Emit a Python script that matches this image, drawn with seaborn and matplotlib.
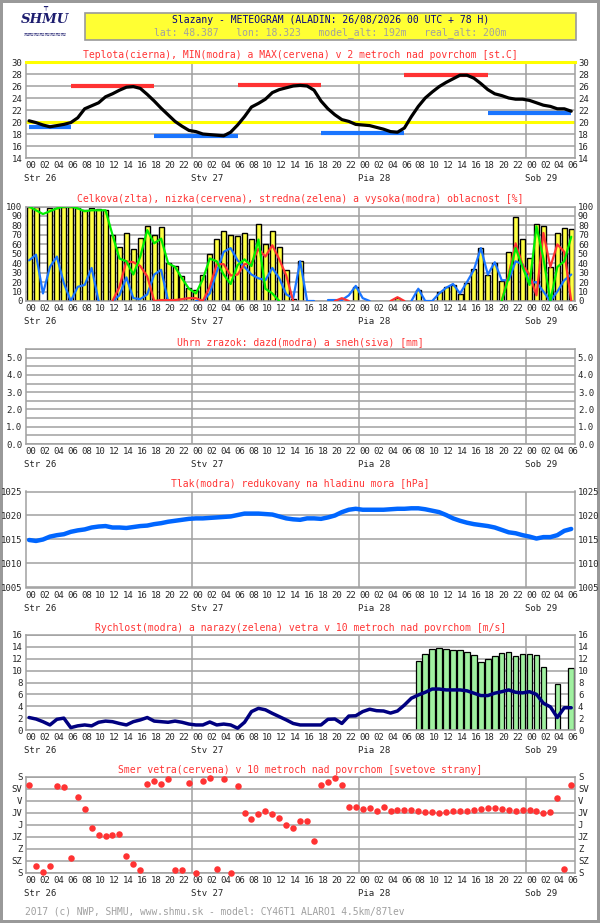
import pandas as pd
import matplotlib
matplotlib.use('Agg')
import matplotlib.pyplot as plt
import matplotlib.transforms as mtransforms
import seaborn as sns
from matplotlib.patches import Rectangle
from matplotlib.ticker import MultipleLocator

# Hodiny predpovede 0..78 (Str 26 00 UTC .. Sob 29 06 UTC)
hours = list(range(79))
hour_labels = ['%02d' % (h % 24) for h in hours[::2]]
day_starts = [0, 24, 48, 72]
day_labels = ['Str 26', 'Stv 27', 'Pia 28', 'Sob 29']

# Teplota [st.C]
temp = [20.2, 19.9, 19.5, 19.2, 19.4, 19.6, 19.9, 20.7, 22.2, 22.7, 23.2, 24.2, 24.7, 25.3, 25.8,
        25.9, 25.6, 24.6, 23.5, 22.3, 21.2, 20.1, 19.3, 18.6, 18.4, 18.0, 17.9, 17.8, 17.7, 18.3,
        19.5, 20.9, 22.5, 23.1, 23.8, 24.9, 25.4, 25.7, 26.0, 26.1, 26.0, 25.3, 23.5, 22.2, 21.2,
        20.4, 20.1, 19.6, 19.5, 19.4, 19.1, 18.8, 18.4, 18.3, 19.0, 20.9, 22.6, 24.0, 25.0, 25.9,
        26.6, 27.2, 27.8, 27.8, 27.3, 26.4, 25.4, 24.7, 24.4, 24.0, 23.8, 23.8, 23.6, 23.2, 22.8,
        22.6, 22.2, 22.2, 21.8]
tmin_val = [19.2, 17.7, 18.15, 21.5]
tmin_from = [0, 18, 42, 66]
tmin_to = [6, 30, 54, 78]
tmax_val = [26.0, 26.25, 27.9]
tmax_from = [6, 30, 54]
tmax_to = [18, 42, 66]

# Oblacnost [%]
N = None
cloud_total = [100, 99, N, 98, 98, 100, 100, 98, 96, 98, 97, 96, 70, 57, 72, 55, 67, 79, 70, 78,
               40, 37, 26, 14, 12, 28, 50, 66, 74, 70, 69, 72, 66, 81, 60, 74, 57, 33, 2, 42,
               N, N, N, N, N, N, N, 15, N, N, N, N, N, 3, N, N, 12, N, N, 10,
               15, 17, 7, 19, 34, 56, 27, 40, 21, 52, 89, 66, 45, 82, 79, 36, 72, 77, 76]
cloud_mid = [100, 96, 92, 95, 98, 100, 100, 98, 95, 96, 96, 96, 70, 45, 42, 28, 47, 75, 61, 66,
             40, 36, 24, 13, 8, 23, 45, 42, 28, 18, 38, 44, 37, 65, 13, 8, 0, N, N, N,
             N, N, N, N, N, N, N, N, N, N, N, N, N, N, N, N, N, N, N, N,
             N, N, N, N, N, N, N, N, 0, 25, 56, 36, 17, 79, 45, 0, 36, 42, 68]
cloud_low = [N, N, N, N, N, N, N, N, N, N, N, N, 0, 15, 42, 41, 37, 26, 0, 1,
             1, 1, 2, 3, 3, 0, 15, 39, 39, 27, 28, 39, 40, 55, 47, 59, 44, 27, 0, N,
             N, N, N, N, 0, 3, 0, N, N, N, N, N, 0, 4, 0, N, N, N, N, N,
             N, N, N, N, N, N, N, N, 0, 28, 61, 38, 28, 6, 72, 36, 60, 52, 0]
cloud_high = [43, 49, 8, 36, 47, 19, 0, 15, 17, 35, 0, N, 0, 6, 25, 3, 2, 7, 28, 33,
              0, N, N, N, 0, 0, 8, 31, 52, 56, 43, 36, 28, 24, 22, 35, 24, 7, 3, 42,
              0, 0, N, 1, 1, 1, 6, 16, 3, 0, N, N, N, N, N, 0, 13, 0, 0, 8,
              14, 18, 8, 20, 33, 56, 28, 41, 22, 22, 42, 39, 19, 20, 10, 0, 10, 22, 28]

# Tlak [hPa]
pressure = [1014.9, 1014.7, 1015.0, 1015.6, 1015.9, 1016.1, 1016.6, 1016.9, 1017.1, 1017.5,
            1017.7, 1017.8, 1017.5, 1017.5, 1017.4, 1017.6, 1017.8, 1017.9, 1018.2, 1018.4,
            1018.7, 1018.9, 1019.1, 1019.3, 1019.4, 1019.4, 1019.5, 1019.6, 1019.7, 1019.8,
            1020.1, 1020.4, 1020.4, 1020.4, 1020.3, 1020.2, 1019.8, 1019.4, 1019.2, 1019.1,
            1019.4, 1019.4, 1019.3, 1019.6, 1020.0, 1020.7, 1021.2, 1021.4, 1021.2, 1021.2,
            1021.2, 1021.2, 1021.3, 1021.4, 1021.4, 1021.5, 1021.5, 1021.3, 1021.0, 1020.7,
            1020.1, 1019.4, 1018.9, 1018.5, 1018.2, 1018.0, 1017.8, 1017.5, 1017.0, 1016.5,
            1016.3, 1015.9, 1015.6, 1015.2, 1015.5, 1015.5, 1015.9, 1016.8, 1017.2]

# Vietor [m/s]
wind_speed = [2.1, 1.85, 1.4, 0.85, 1.8, 2.0, 0.4, 0.7, 0.85, 0.7, 1.3, 1.5, 1.4, 1.1, 0.85,
              1.4, 1.7, 2.1, 1.5, 1.4, 1.3, 1.5, 1.3, 1.0, 0.85, 0.85, 1.35, 0.85, 1.0, 0.85,
              0.3, 1.3, 3.1, 3.65, 3.4, 2.8, 2.25, 1.7, 1.1, 0.85, 0.85, 0.85, 0.85, 1.8, 1.85,
              1.1, 2.35, 2.4, 3.1, 3.5, 3.25, 3.2, 2.85, 3.2, 4.2, 5.35, 5.9, 6.35, 6.9, 6.9,
              6.75, 6.75, 6.75, 6.6, 6.2, 5.8, 5.8, 6.2, 6.45, 6.75, 6.35, 6.25, 6.45, 6.0, 4.5,
              3.9, 2.1, 3.75, 3.75]
wind_gust = [N] * 56 + [11.6, 12.8, 13.65, 13.8, 13.65, 13.5, 13.5, 13.1, 12.6, 11.4, 12.0,
                        12.4, 13.0, 13.1, 12.4, 12.75, 12.75, 12.6, 10.6, N, 7.7, N, 10.4]

# Smer vetra [stupne]
wind_dir = [30, 332, 355, 332, 35, 38, 302, 76, 121, 193, 219, 223, 219, 215, 295, 325, 350,
            27, 15, 27, 8, 350, 350, 22, 359, 15, 4, 346, 8, 359, 34, 136, 158, 140, 128, 139,
            155, 181, 193, 166, 166, 240, 29, 19, 4, 30, 113, 113, 120, 117, 128, 113, 128, 125,
            125, 125, 128, 132, 132, 136, 132, 128, 128, 128, 125, 121, 117, 117, 121, 125, 128,
            125, 125, 128, 136, 132, 79, 346, 30]
dir_labels = ['S', 'SZ', 'Z', 'JZ', 'J', 'JV', 'V', 'SV', 'S']

RED = '#ff3333'
GRID = '#a0a0a0'
BLUE = '#1a75ff'
NAVY = '#1c1c6e'
TICK_FS = 6.5


def segments(values):
    rows, seg, prev = [], 0, False
    for h, v in zip(hours, values):
        if v is None:
            if prev:
                seg += 1
            prev = False
            continue
        rows.append((h + 0.5, v, seg))
        prev = True
    return pd.DataFrame(rows, columns=['x', 'y', 'seg'])


def line(ax, values, color, lw):
    df = segments(values)
    sns.lineplot(data=df, x='x', y='y', units='seg', estimator=None, color=color,
                 lw=lw, ax=ax, zorder=4)


sns.set_style('white')
plt.rcParams['font.family'] = ['DejaVu Sans Mono']
plt.rcParams['font.size'] = 7

fig = plt.figure(figsize=(6, 9.23), dpi=100)
fig.patch.set_edgecolor('#999999')
fig.patch.set_linewidth(3)

W, H = 600, 923
L_PX, R_PX = 25.6, 574.7
shift_left = mtransforms.ScaledTranslation(-1.5 / 100, 0, fig.dpi_scale_trans)


def make_ax(top, bottom):
    ax = fig.add_axes([L_PX / W, 1 - bottom / H, (R_PX - L_PX) / W, (bottom - top) / H])
    return ax


def finish(ax, title, ylim):
    ax.set_xlim(0, 79)
    ax.set_ylim(*ylim)
    ax.set_xticks(hours[::2])
    ax.set_xticklabels(hour_labels, ha='left')
    for lbl in ax.get_xticklabels():
        lbl.set_transform(lbl.get_transform() + shift_left)
    ax.tick_params(axis='x', length=0, pad=2.5, labelsize=TICK_FS)
    ax.tick_params(axis='y', which='both', length=0, pad=2.3, labelsize=TICK_FS,
                   labelleft=True, labelright=True)
    ax.grid(axis='y', which='both', color=GRID, lw=1.1, zorder=0)
    ax.set_axisbelow(True)
    for d in day_starts[1:]:
        ax.axvline(d, color=GRID, lw=1.1, zorder=1)
    for s in ax.spines.values():
        s.set_color(GRID)
        s.set_linewidth(1.1)
    for d, lab in zip(day_starts, day_labels):
        ax.text(d, -0.215, lab, transform=ax.get_xaxis_transform() + shift_left,
                ha='left', va='center', fontsize=TICK_FS)
    ax.set_title(title, color=RED, fontsize=7, pad=3)
    ax.set_xlabel('')
    ax.set_ylabel('')


# Hlavicka
fig.add_artist(Rectangle((85 / W, 1 - 40 / H), 491 / W, 27 / H, transform=fig.transFigure,
                         facecolor='#ffff33', edgecolor='#999999', lw=1.2))
fig.text(330.5 / W, 1 - 20 / H, 'Slazany - METEOGRAM (ALADIN: 26/08/2026 00 UTC + 78 H)',
         ha='center', va='center', color='#000080', fontsize=7)
fig.text(330.5 / W, 1 - 32.5 / H, 'lat: 48.387   lon: 18.323   model_alt: 192m   real_alt: 200m',
         ha='center', va='center', color='#a0a0a0', fontsize=7)
# logo
fig.text(45 / W, 1 - 7 / H, '┯', ha='center', va='center', color=NAVY, fontsize=5)
fig.text(45 / W, 1 - 19.5 / H, 'SHMU', ha='center', va='center', color=NAVY, fontsize=9.5,
         weight='bold', style='italic', family='DejaVu Serif')
fig.text(45 / W, 1 - 33.5 / H, '≈≈≈≈≈≈≈≈', ha='center', va='center', color=NAVY, fontsize=6.5)

# 1. Teplota
ax1 = make_ax(62, 158)
line(ax1, temp, 'black', 2.3)
ax1.hlines(tmin_val, [h + 0.5 for h in tmin_from], [h + 0.5 for h in tmin_to], color=BLUE,
           lw=3, zorder=3)
ax1.hlines(tmax_val, [h + 0.5 for h in tmax_from], [h + 0.5 for h in tmax_to], color=RED,
           lw=3, zorder=3)
ax1.axhline(20, color='#ffff00', lw=2.2, zorder=2)
finish(ax1, 'Teplota(cierna), MIN(modra) a MAX(cervena) v 2 metroch nad povrchom [st.C]',
       (14, 30))
ax1.set_yticks(range(14, 31, 2))
ax1.spines['top'].set_color('#ffff00')
ax1.spines['top'].set_linewidth(2.2)

# 2. Oblacnost
ax2 = make_ax(206.5, 301)
bars = pd.DataFrame({'x': [h + 0.5 for h in hours], 'y': cloud_total}).dropna()
sns.barplot(data=bars, x='x', y='y', native_scale=True, color='#ffff44', saturation=1,
            edgecolor='black', linewidth=1, width=0.72, errorbar=None, ax=ax2, zorder=2)
line(ax2, cloud_high, BLUE, 1.6)
line(ax2, cloud_low, RED, 1.6)
line(ax2, cloud_mid, '#00ee00', 1.6)
finish(ax2, 'Celkova(zlta), nizka(cervena), stredna(zelena) a vysoka(modra) oblacnost [%]',
       (0, 100))
ax2.set_yticks(range(0, 101, 10))

# 3. Zrazky
ax3 = make_ax(349, 444)
finish(ax3, 'Uhrn zrazok: dazd(modra) a sneh(siva) [mm]', (0, 5.5))
ax3.set_yticks([0, 1, 2, 3, 4, 5])
ax3.set_yticklabels(['0.0', '1.0', '2.0', '3.0', '4.0', '5.0'])
ax3.yaxis.set_minor_locator(MultipleLocator(0.5))

# 4. Tlak
ax4 = make_ax(491.5, 587.5)
line(ax4, pressure, '#0066ff', 3.2)
finish(ax4, 'Tlak(modra) redukovany na hladinu mora [hPa]', (1005, 1025))
ax4.set_yticks(range(1005, 1026, 5))

# 5. Rychlost vetra
ax5 = make_ax(635, 730)
gusts = pd.DataFrame({'x': [h + 0.5 for h in hours], 'y': wind_gust}).dropna()
sns.barplot(data=gusts, x='x', y='y', native_scale=True, color='#a0f0a0', saturation=1,
            edgecolor='black', linewidth=0.9, width=0.8, errorbar=None, ax=ax5, zorder=2)
line(ax5, wind_speed, '#000080', 2.5)
finish(ax5, 'Rychlost(modra) a narazy(zelena) vetra v 10 metroch nad povrchom [m/s]', (0, 16))
ax5.set_yticks(range(0, 17, 2))

# 6. Smer vetra
ax6 = make_ax(777, 873)
dirs = pd.DataFrame({'x': [h + 0.5 for h in hours], 'deg': wind_dir})
dirs['pos'] = (360 - dirs['deg']) / 45.0
sns.scatterplot(data=dirs, x='x', y='pos', color=RED, s=22, linewidth=0, ax=ax6, zorder=4)
finish(ax6, 'Smer vetra(cervena) v 10 metroch nad povrchom [svetove strany]', (0, 8))
ax6.set_yticks(range(9))
ax6.set_yticklabels(dir_labels)
for c in ax6.collections:
    c.set_clip_on(False)

fig.text(25 / W, 1 - 912 / H, '2017 (c) NWP, SHMU, www.shmu.sk - model: CY46T1 ALARO1 4.5km/87lev',
         ha='left', va='center', color='#a0a0a0', fontsize=6.9)

fig.savefig('out.png', dpi=100, facecolor='white', edgecolor=fig.get_edgecolor())
